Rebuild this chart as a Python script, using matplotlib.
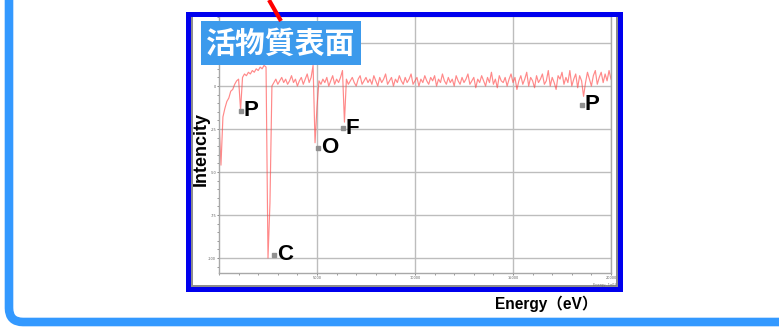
import numpy as np
import matplotlib.pyplot as plt
from matplotlib.path import Path
from matplotlib.patches import PathPatch, Rectangle
from matplotlib.ticker import MultipleLocator

intensity = [
    -20, -46, -18, -13, -9, -7, -3, -2, 1, 3,
    4, -14, 5, 7, 6, 8, 7, 9, 8, 10,
    9, 11, 10, 12, 11, -100, -68,
    0, 2, 4, 1, 3, 5, 2, 4, 1, 3,
    6, 2, 4, 0, 3, 5, 1, 4, 7, 2,
    5, 12, -33, -12, 3, 1, 4, 2, 5, 0,
    3, 6, 1, 4, 2, 5, 9, -21, 4, 1,
    3, 5, 2, 0, 4, 6, 1, 3, 5, 2,
    4, 1, 6, 3, 0, 5, 2, 4, 7, 1,
    3, 5, 0, 4, 2, 6, 3, 1, 5, 2,
    4, 7, 1, 3, 5, 0, 4, 2, 6, 3,
    1, 5, 3, 6, 0, 4, 2, 7, 3, 1,
    5, 2, 4, 0, 6, 3, 1, 5, 2, 4,
    7, 1, 3, 5, -1, 4, 2, 6, 3, 0,
    5, 2, 8, 1, 4, -1, 6, 3, 2, 5,
    0, 4, 7, 2, 5, -2, 3, 6, 1, 4,
    8, 0, 5, 3, -1, 6, 2, 4, 7, 1,
    3, 9, 0, 5, 2, -2, 6, 4, 8, 1,
    5, 2, 9, 0, 4, 7, -1, 6, 3, -6,
    2, 8, 4, 0, 6, 9, 1, 5, 8, 2,
    7, 3, 9, 4,
]
step_ev = 100
energy = np.arange(len(intensity)) * step_ev

peak_names = ['P', 'C', 'O', 'F', 'P']
peak_energy = [1120, 2800, 5050, 6320, 18500]
peak_level = [-14.5, -98, -36, -24.5, -11]

xticks = [5000, 10000, 15000, 20000]
yticks = [25, 0, -25, -50, -75, -100]
# the 25 label sits under the title box, so it is left blank
ylabels = ['', '0', '-25', '-50', '-75', '-100']

W, H = 779, 327
fig = plt.figure(figsize=(W / 100, H / 100), dpi=100)

ax = fig.add_axes([219 / W, 54 / H, 392 / W, 257 / H])
ax.plot(energy, intensity, color='#ff4a4a', lw=0.85, alpha=0.65)
ax.set_xlim(0, 20000)
ax.set_ylim(-108.7, 40.7)
ax.set_xticks(xticks)
ax.set_xticklabels([str(v) for v in xticks])
ax.set_yticks(yticks)
ax.set_yticklabels(ylabels)
ax.xaxis.set_minor_locator(MultipleLocator(1000))
ax.yaxis.set_minor_locator(MultipleLocator(5))
ax.tick_params(which='both', direction='out', color='#707070', labelsize=2.5,
               labelcolor='#606060', pad=0.5)
ax.tick_params(which='major', length=1.5, width=0.6)
ax.tick_params(which='minor', length=1.5, width=0.5)
ax.grid(True, which='major', color='#bdbdbd', lw=1)
for s in ax.spines.values():
    s.set_color('#a8a8a8')
    s.set_linewidth(1)

for name, e, lvl in zip(peak_names, peak_energy, peak_level):
    ax.plot(e, lvl, 's', ms=2.2, color='#909090', mec='#909090')
    ax.annotate(name, (e, lvl), xytext=(2, 0), textcoords='offset points',
                ha='left', va='center', fontsize=16, fontweight='bold',
                family='Liberation Sans', color='black')

# overlay in pixel units for frames and labels
ov = fig.add_axes([0, 0, 1, 1], zorder=10)
ov.set_xlim(0, W)
ov.set_ylim(H, 0)
ov.axis('off')
ov.patch.set_visible(False)

# light blue outer frame (left + bottom, rounded corner)
verts = [(9, -10), (9, 308), (9, 322), (23, 322), (800, 322)]
codes = [Path.MOVETO, Path.LINETO, Path.CURVE3, Path.CURVE3, Path.LINETO]
ov.add_patch(PathPatch(Path(verts, codes), fill=False, ec='#3399ff', lw=6.2,
                       capstyle='butt', joinstyle='round'))

# chart box: inner bevel and dark blue border
ov.add_patch(Rectangle((192, 16), 425, 270, fill=False, ec='#8a8a8a', lw=1.4))
ov.add_patch(Rectangle((188.5, 13.5), 432, 275, fill=False, ec='#0000ee', lw=3.6))

ov.text(617, 285, 'Energy, 1e03', fontsize=2.5, color='#707070',
        ha='right', va='center')

# red pointer line and label box
ov.plot([269, 281], [0, 21], color='#ff0000', lw=3, solid_capstyle='butt')
ov.add_patch(Rectangle((201, 21), 160, 44, color='#3c9aec', lw=0))
ov.text(281, 44, '活物質表面', color='white', fontsize=21.5, fontweight='bold',
        family=['Noto Sans CJK JP', 'DejaVu Sans'], ha='center', va='center')

ov.text(201.5, 149, 'Intencity', rotation=90, fontsize=13, fontweight='bold',
        family='Liberation Sans', ha='center', va='center')
ov.text(546.5, 308.5, 'Energy（eV）', fontsize=11.2, fontweight='bold',
        family=['Liberation Sans', 'Noto Sans CJK JP'], ha='center',
        va='baseline')

fig.savefig('out.png', dpi=100)
